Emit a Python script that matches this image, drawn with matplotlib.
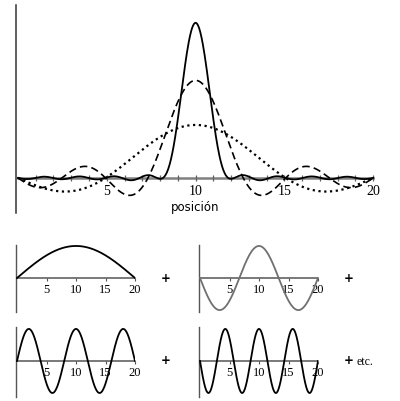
import numpy as np
import matplotlib
matplotlib.use('Agg')
import matplotlib.pyplot as plt

# odd harmonics of a wave that fits in 0..20, and their signs (cos about x=10)
harmonics = [1, 3, 5, 7, 9, 11, 13, 15, 17, 19]
signs = [1, -1, 1, -1, 1, -1, 1, -1, 1, -1]
# weights of each harmonic in the top sums
weights = [1.00, 0.96, 0.88, 0.77, 0.64, 0.51, 0.39, 0.28, 0.19, 0.12]
# how many harmonics go into each curve of the top panel
curve_terms = [2, 4, 10]
curve_styles = [(0, (1, 1.6)), (0, (4.5, 2.5)), '-']
curve_widths = [1.6, 1.2, 1.3]

# the four single components drawn below
component_index = [0, 1, 2, 3]
component_colors = ['black', '#707070', 'black', 'black']
component_tail = ['', '', '', 'etc.']

tick_labels = [5, 10, 15, 20]
xlabel = 'posición'

L = 20.0
x = np.linspace(0, L, 800)

def wave(k):
    return signs[k] * np.sin(harmonics[k] * np.pi * x / L)

fig = plt.figure(figsize=(4, 4.01), dpi=100)
W, H = 400, 401

def box(left, top, right, bottom):
    return [left / W, (H - bottom) / H, (right - left) / W, (bottom - top) / H]

# top panel: sums
ax = fig.add_axes(box(16, 5, 375, 213))
for n, ls, lw in zip(curve_terms, curve_styles, curve_widths):
    y = sum(weights[k] * wave(k) for k in range(n))
    ax.plot(x, y, color='black', linestyle=ls, lw=lw, zorder=3)
ax.set_xlim(-0.11, 20.1)
ax.set_ylim(-1.3, 6.4)
for s in ['top', 'right']:
    ax.spines[s].set_visible(False)
ax.spines['left'].set_color('#333333')
ax.spines['left'].set_linewidth(1.1)
ax.spines['bottom'].set_position(('data', 0))
ax.spines['bottom'].set_bounds(0, 20)
ax.spines['bottom'].set_color('#808080')
ax.spines['bottom'].set_linewidth(1.8)
ax.spines['bottom'].set_zorder(1)
ax.set_yticks([])
ticks = list(range(1, 21))
ax.set_xticks(ticks)
ax.set_xticklabels([str(t) if t in tick_labels else '' for t in ticks],
                   family='Liberation Serif', fontsize=10)
ax.tick_params(axis='x', direction='inout', length=4, width=0.9,
               color='#606060', pad=3)
ax.text(10, -1.1, xlabel, ha='center', va='center', fontsize=8.5,
        family='DejaVu Sans')

# bottom panels: single components
boxes = [(16, 245, 135, 312), (199, 245, 318, 312),
         (16, 327, 135, 397), (199, 327, 318, 397)]
ylims = [(-1.06, 1.03), (-1.06, 1.03), (-1.125, 1.06), (-1.125, 1.06)]
for (l, t, r, b), yl, k, c, tail in zip(boxes, ylims, component_index,
                                        component_colors, component_tail):
    a = fig.add_axes(box(l, t, r, b))
    a.plot(x, wave(k), color=c, lw=1.3, zorder=3)
    a.set_xlim(-0.17, 20)
    a.set_ylim(*yl)
    for s in ['top', 'right']:
        a.spines[s].set_visible(False)
    a.spines['left'].set_color('#555555')
    a.spines['left'].set_linewidth(1.0)
    a.spines['bottom'].set_position(('data', 0))
    a.spines['bottom'].set_bounds(0, 20)
    a.spines['bottom'].set_color('#555555')
    a.spines['bottom'].set_linewidth(1.1)
    a.set_yticks([])
    a.set_xticks(tick_labels)
    a.set_xticklabels([str(v) for v in tick_labels],
                      family='Liberation Serif', fontsize=9)
    a.tick_params(axis='x', direction='out', length=2, width=0.8,
                  color='#555555', pad=2)
    a.text(25.2, 0, '+', ha='center', va='center', fontsize=8.5,
           fontweight='bold', family='DejaVu Sans', clip_on=False)
    if tail:
        a.text(26.6, -0.02, tail, ha='left', va='center', fontsize=8.5,
               family='Liberation Serif', clip_on=False)

fig.savefig('out.png', dpi=100)
